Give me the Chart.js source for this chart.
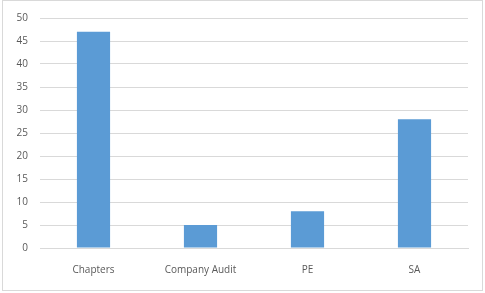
<!DOCTYPE html>
<html>
<head>
<meta charset="utf-8">
<script src="https://cdn.jsdelivr.net/npm/chart.js@4/dist/chart.umd.min.js"></script>
<style>
  html, body { margin: 0; padding: 0; background: #fff; }
  #wrap { position: relative; width: 485px; height: 293px; }
  #frame { position: absolute; left: 2px; top: 0px; width: 479px; height: 289px; border: 1px solid #d9d9d9; pointer-events: none; }
</style>
</head>
<body>
<div id="wrap">
  <canvas id="chart" width="485" height="293"></canvas>
  <div id="frame"></div>
</div>
<script>
// data
const categories = ['Chapters', 'Company Audit', 'PE', 'SA'];
const counts = [47, 5, 8, 28];
const yTicks = [0, 5, 10, 15, 20, 25, 30, 35, 40, 45, 50];

const ctx = document.getElementById('chart').getContext('2d');
const chart = new Chart(ctx, {
  type: 'bar',
  data: {
    labels: categories,
    datasets: [{
      data: counts,
      backgroundColor: '#5b9bd5',
      barPercentage: 0.31,
      categoryPercentage: 1
    }]
  },
  options: {
    responsive: false,
    animation: false,
    layout: { padding: { left: 0, right: 17, top: 16, bottom: 0 } },
    plugins: { legend: { display: false }, tooltip: { enabled: false } },
    scales: {
      x: {
        grid: { display: false },
        border: { color: '#d9d9d9' },
        ticks: { color: '#595959', font: { family: 'Open Sans', size: 10 }, padding: 8, maxRotation: 0 },
        afterFit: (s) => { s.height = 45; }
      },
      y: {
        min: 0,
        max: 50,
        afterBuildTicks: (s) => { s.ticks = yTicks.map(v => ({ value: v })); },
        grid: { color: '#d9d9d9', drawTicks: false },
        border: { display: false },
        ticks: { color: '#595959', font: { family: 'Open Sans', size: 10 }, padding: 12 },
        afterFit: (s) => { s.width = 40; }
      }
    }
  }
});
</script>
</body>
</html>
